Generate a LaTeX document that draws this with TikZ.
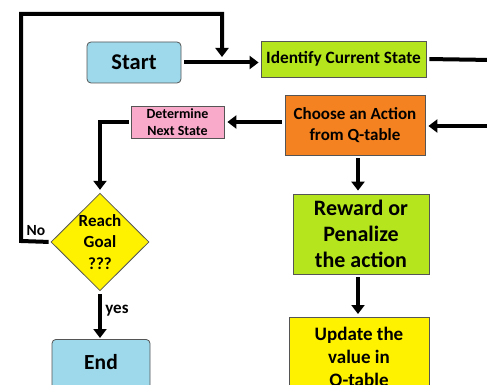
\documentclass[tikz,border=0pt]{standalone}
\usepackage{fontspec}
\setmainfont{Carlito}
\usetikzlibrary{shapes.geometric,arrows.meta}
\definecolor{cblue}{HTML}{9DD9EA}
\definecolor{clime}{HTML}{B5E61D}
\definecolor{corange}{HTML}{F58220}
\definecolor{cpink}{HTML}{F9AACB}
\definecolor{cyellow}{HTML}{FFF200}
\definecolor{cborder}{HTML}{555555}
\tikzset{
  box/.style={draw=cborder, line width=0.8pt, align=center, font=\bfseries, inner sep=0pt, text=black},
  conn/.style={line width=4pt, -{Triangle[width=13pt,length=9pt]}},
  plain/.style={line width=4pt},
}
\begin{document}
\begin{tikzpicture}[x=1pt,y=-1pt]
\useasboundingbox (0,0) rectangle (487,385);
\node[box, fill=cblue, rounded corners=4pt, minimum width=94pt, minimum height=41pt, font=\bfseries\fontsize{22.5}{26}\selectfont] (start) at (134,62.5) {Start};
\node[box, fill=clime, minimum width=165pt, minimum height=36pt, font=\bfseries\fontsize{17.3}{20}\selectfont] (ident) at (343.5,59) {Identify Current State};
\node[box, fill=corange, minimum width=140pt, minimum height=60pt, font=\bfseries\fontsize{17}{21}\selectfont] (choose) at (355,125) {Choose an Action\\from Q-table};
\node[box, fill=cpink, minimum width=93pt, minimum height=32pt, font=\bfseries\fontsize{14}{16.5}\selectfont] (determine) at (177.5,122) {Determine\\Next State};
\node[box, fill=cyellow, diamond, minimum width=98pt, minimum height=97pt, font=\bfseries\fontsize{17}{21.5}\selectfont] (goal) at (100,242) {Reach\\Goal\\???};
\node[box, fill=cblue, rounded corners=4pt, minimum width=98pt, minimum height=60pt, anchor=north] (end) at (101,339) {};
\node[font=\bfseries\fontsize{21.5}{25}\selectfont] (endtext) at (101,362) {End};
\node[box, fill=clime, minimum width=136pt, minimum height=80pt, font=\bfseries\fontsize{22}{26}\selectfont] (reward) at (361,234) {Reward or\\Penalize\\the action};
\node[box, fill=cyellow, minimum width=140pt, minimum height=80pt, anchor=north] (update) at (359,317) {};
\node[font=\bfseries\fontsize{19}{23}\selectfont, align=center, anchor=north] (updtext) at (359,324) {Update the\\value in\\Q-table};
\coordinate (loopend) at (222,57);
\coordinate (offA) at (492,60);
\coordinate (offB) at (492,126);
\coordinate (tl) at (21,14);
\coordinate (bl) at (21,241);
\coordinate (ax) at (358,0);
\draw[conn, shorten <=3pt, shorten >=2pt] (start.east) -- (start.east -| ident.west);
\draw[plain, shorten <=3pt] (ident.east) -- (offA);
\draw[conn, shorten >=3pt] (offB) -- (offB -| choose.east);
\draw[conn, shorten <=3pt, shorten >=3pt] (choose.west |- determine.east) -- (determine.east);
\draw[conn, shorten <=2pt, shorten >=3pt] (determine.west) -| (goal.north);
\draw[conn, shorten <=3pt, shorten >=1pt] (goal.south) -- node[right, font=\bfseries\fontsize{17}{20}\selectfont, pos=0.4, xshift=0pt] (yes) {yes} (end.north -| goal.south);
\draw[conn, line join=miter, shorten <=2pt] (goal.west) -- (bl) -- (tl) -| (loopend);
\node[font=\bfseries\fontsize{15.5}{18}\selectfont] (no) at (36,231) {No};
\draw[conn, shorten <=3pt, shorten >=3pt] (choose.south -| ax) -- (reward.north -| ax);
\draw[conn, shorten <=3pt, shorten >=3pt] (reward.south -| ax) -- (update.north -| ax);
\end{tikzpicture}
\end{document}
